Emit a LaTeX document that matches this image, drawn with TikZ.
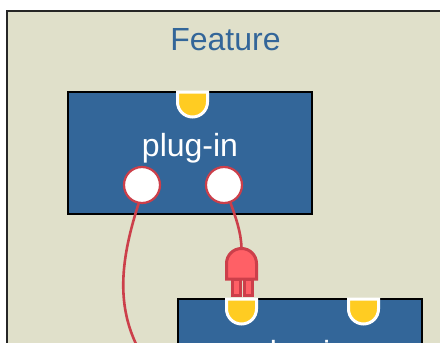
\documentclass[tikz,border=0pt]{standalone}
\usepackage{xcolor}
\usepackage{fontspec}
\setmainfont{Liberation Sans}
\usetikzlibrary{positioning}
\definecolor{featurebg}{HTML}{E0E0CA}
\definecolor{pluginblue}{HTML}{336699}
\definecolor{socketyellow}{HTML}{FFCC22}
\definecolor{wirered}{HTML}{CC3F4A}
\definecolor{plugred}{HTML}{FF6066}

\begin{document}
\begin{tikzpicture}[
    x=1pt, y=-1pt,
    feature/.style={rectangle, draw=black!85, line width=1.4pt, fill=featurebg, outer sep=0pt, minimum width=520pt, minimum height=420pt, anchor=north west},
    plugin/.style={rectangle, draw=black, line width=1.2pt, fill=pluginblue, outer sep=0pt, minimum width=244pt, minimum height=122pt, anchor=north west},
    title/.style={text=pluginblue, font=\fontsize{32}{32}\selectfont, anchor=base, inner sep=0pt},
    label/.style={text=white, font=\fontsize{32}{32}\selectfont, anchor=base, inner sep=0pt},
    port/.style={circle, draw=wirered, line width=2.2pt, fill=white, minimum size=36pt, inner sep=0pt, outer sep=0pt},
    wire/.style={draw=wirered, line width=2.6pt},
    socket/.pic={
        \path[draw=white, line width=3pt, fill=socketyellow] (-15,0) -- (15,0) -- (15,10) arc[start angle=0, end angle=180, radius=15] -- cycle;
    },
    plug/.pic={
        \coordinate (-top) at (0,-47);
        \path[draw=wirered, line width=3pt, fill=plugred] (-9,-16) rectangle (-1.5,0);
        \path[draw=wirered, line width=3pt, fill=plugred] (3,-16) rectangle (11,0);
        \path[draw=wirered, line width=3pt, fill=plugred] (-15,-16) -- (15,-16) -- (15,-31.5) arc[start angle=0, end angle=-180, radius=15] -- cycle;
    },
]
    \path[use as bounding box, clip] (0,0) rectangle (440,343);
    \node[feature] (fr) at (7,11) {};
    \node[title] (ft) at (225.5,50) {Feature};

    \node[plugin] (p1) at (68,92) {};
    \node[label] (p1t) at (190,156) {plug-in};
    \node[plugin] (p2) at (178,299) {};
    \node[label] (p2t) at (300,363) {plug-in};

    \pic (s1) at (192.5,92) {socket};
    \pic (s2) at (241.5,299) {socket};
    \pic (s3) at (363.5,299) {socket};

    \node[port] (a) at (142,185) {};
    \node[port] (b) at (224,185) {};

    \pic (pl) at (241.5,295) {plug};
    \coordinate (away) at (137,346);

    \draw[wire] (a.-100) .. controls (121,258) and (116,303) .. (away);
    \draw[wire] (b.-70) .. controls (236,218) and (241,232) .. (pl-top);
\end{tikzpicture}
\end{document}
